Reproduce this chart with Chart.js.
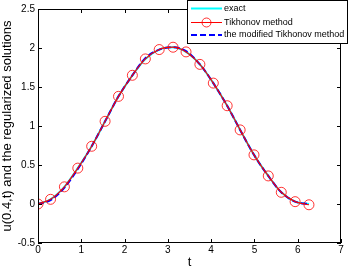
<!DOCTYPE html>
<html>
<head>
<meta charset="utf-8">
<script src="https://cdn.jsdelivr.net/npm/chart.js@4"></script>
<style>
  html, body { margin: 0; padding: 0; background: #fff; }
  #wrap { width: 350px; height: 269px; }
</style>
</head>
<body>
<div id="wrap"><canvas id="sol"></canvas></div>
<script>
// values
var tVals     = [0, 0.29, 0.61, 0.92, 1.24, 1.55, 1.86, 2.18, 2.48, 2.80, 3.12, 3.42, 3.74, 4.05, 4.37, 4.67, 4.99, 5.32, 5.62, 5.94, 6.26];
var exact     = [0, 0.06, 0.22, 0.46, 0.74, 1.06, 1.38, 1.65, 1.86, 1.98, 2.01, 1.95, 1.79, 1.55, 1.26, 0.95, 0.63, 0.36, 0.15, 0.03, 0];
var tikhonov  = [0, 0.06, 0.22, 0.46, 0.74, 1.06, 1.38, 1.65, 1.86, 1.98, 2.01, 1.95, 1.79, 1.55, 1.26, 0.95, 0.63, 0.36, 0.15, 0.03, -0.01];
var modified  = [0, 0.05, 0.21, 0.45, 0.74, 1.06, 1.38, 1.65, 1.87, 1.98, 2.01, 1.96, 1.79, 1.55, 1.26, 0.95, 0.63, 0.36, 0.15, 0.03, 0];
var xTicks = [0, 1, 2, 3, 4, 5, 6, 7];
var yTicks = [-0.5, 0, 0.5, 1, 1.5, 2, 2.5];
var legendNames = ['exact', 'Tikhonov method', 'the modified Tikhonov method'];

var FONT = '"Liberation Sans", Arial, sans-serif';

function pts(ys){
  return tVals.map(function(t, i){ return {x: t, y: ys[i]}; });
}

// box + inward ticks, matlab style
var boxTicks = {
  id: 'boxTicks',
  afterDraw: function(chart){
    var ctx = chart.ctx, a = chart.chartArea;
    var sx = chart.scales.x, sy = chart.scales.y;
    ctx.save();
    ctx.strokeStyle = '#000';
    ctx.lineWidth = 1;
    ctx.strokeRect(Math.round(a.left) + 0.5, Math.round(a.top) + 0.5,
                   Math.round(a.right - a.left) - 1, Math.round(a.bottom - a.top) - 1);
    ctx.beginPath();
    xTicks.forEach(function(v){
      var px = Math.round(sx.getPixelForValue(v)) + 0.5;
      ctx.moveTo(px, a.bottom); ctx.lineTo(px, a.bottom - 4);
      ctx.moveTo(px, a.top); ctx.lineTo(px, a.top + 4);
    });
    yTicks.forEach(function(v){
      var py = Math.round(sy.getPixelForValue(v)) + 0.5;
      ctx.moveTo(a.left, py); ctx.lineTo(a.left + 4, py);
      ctx.moveTo(a.right, py); ctx.lineTo(a.right - 4, py);
    });
    ctx.stroke();

    // legend box (top right, sticks out a bit past the axes)
    var lx = 187.5, ly = 0.5, lw = 160, lh = 43;
    ctx.fillStyle = '#fff';
    ctx.fillRect(lx, ly, lw, lh);
    ctx.strokeRect(lx, ly, lw, lh);
    var rows = [8.5, 22.5, 35];
    var cols = ['#00ffff', '#ff0000', '#0000ff'];
    ctx.font = '9px ' + FONT;
    ctx.textBaseline = 'middle';
    rows.forEach(function(ry, i){
      ctx.beginPath();
      ctx.strokeStyle = cols[i];
      ctx.lineWidth = i == 1 ? 1 : 2;
      if (i == 2) ctx.setLineDash([6, 3]);
      ctx.moveTo(191, ry); ctx.lineTo(222, ry);
      ctx.stroke();
      ctx.setLineDash([]);
      if (i == 1) {
        ctx.beginPath();
        ctx.lineWidth = 0.8;
        ctx.arc(206.5, ry, 4.5, 0, Math.PI * 2);
        ctx.stroke();
      }
      ctx.fillStyle = '#000';
      ctx.fillText(legendNames[i], 224, ry);
    });
    ctx.restore();
  }
};

new Chart(document.getElementById('sol').getContext('2d'), {
  type: 'line',
  data: {
    datasets: [{
      label: legendNames[0],
      data: pts(exact),
      borderColor: '#00ffff',
      borderWidth: 2,
      pointRadius: 0,
      cubicInterpolationMode: 'monotone',
      order: 3
    }, {
      label: legendNames[1],
      data: pts(tikhonov),
      borderColor: '#ff0000',
      borderWidth: 1.2,
      pointRadius: 5,
      pointBorderWidth: 0.8,
      pointBorderColor: '#ff0000',
      pointBackgroundColor: 'rgba(0,0,0,0)',
      cubicInterpolationMode: 'monotone',
      order: 1
    }, {
      label: legendNames[2],
      data: pts(modified),
      borderColor: '#0000ff',
      borderWidth: 2,
      borderDash: [6, 3],
      pointRadius: 0,
      cubicInterpolationMode: 'monotone',
      order: 2
    }]
  },
  options: {
    responsive: true,
    maintainAspectRatio: false,
    animation: false,
    layout: { padding: { top: 4, right: 9, left: 0, bottom: 0 } },
    plugins: { legend: { display: false }, tooltip: { enabled: false } },
    scales: {
      x: {
        type: 'linear', min: 0, max: 7,
        afterBuildTicks: function(s){ s.ticks = xTicks.map(function(v){ return {value: v}; }); },
        afterFit: function(s){ s.height = 26; },
        ticks: { color: '#000', font: { family: FONT, size: 10 }, padding: 1, maxRotation: 0,
                 callback: function(v){ return String(v); } },
        grid: { display: false, drawTicks: false },
        border: { display: false },
        title: { display: true, text: 't', color: '#000', font: { family: FONT, size: 13, lineHeight: 1 }, padding: 0 }
      },
      y: {
        type: 'linear', min: -0.5, max: 2.5,
        afterBuildTicks: function(s){ s.ticks = yTicks.map(function(v){ return {value: v}; }); },
        afterFit: function(s){ s.width = 38; },
        ticks: { color: '#000', font: { family: FONT, size: 10 }, padding: 3,
                 callback: function(v){ return String(v); } },
        grid: { display: false, drawTicks: false },
        border: { display: false },
        title: { display: true, text: 'u(0.4,t) and the regularized solutions', color: '#000',
                 font: { family: FONT, size: 13, lineHeight: 1 }, padding: { top: 1, bottom: 0 } }
      }
    }
  },
  plugins: [boxTicks]
});
</script>
</body>
</html>
